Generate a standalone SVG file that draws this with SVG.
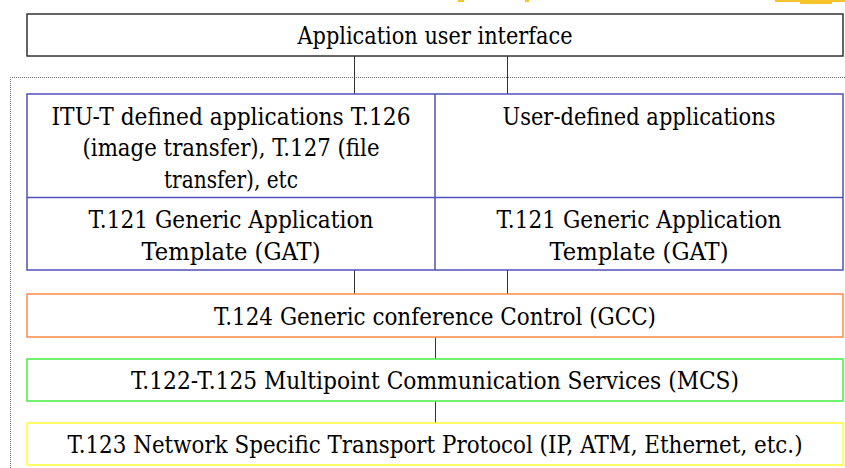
<svg xmlns="http://www.w3.org/2000/svg" width="845" height="468" viewBox="0 0 845 468">
<style>
  .t { font-family: 'DejaVu Serif', serif; font-size: 24.5px; fill: #000; text-anchor: middle; }
  .box { fill: #fff; }
  .conn { stroke: #333; stroke-width: 1; fill: none; }
</style>
<rect width="845" height="468" fill="#fff"/>
<g id="top-fragments" fill="#f6c42a">
  <rect x="458" y="0" width="6" height="2"/>
  <rect x="525" y="0" width="4" height="2"/>
  <rect x="775" y="0" width="70" height="2"/>
  <rect x="800" y="0" width="32" height="4"/>
</g>
<path id="boundary" d="M10.5 468 V77.5 H845" fill="none" stroke="#777" stroke-width="1" stroke-dasharray="1 1"/>
<g id="connectors">
  <path class="conn" d="M354.5 56 V94 M507.5 56 V94"/>
  <path class="conn" d="M354.5 270 V294 M507.5 270 V294"/>
  <path class="conn" d="M435.5 337 V359"/>
  <path class="conn" d="M435.5 401 V423"/>
</g>
<g id="app-ui">
  <rect class="box" x="27" y="14" width="816" height="42" stroke="#333" stroke-width="1.5"/>
  <text class="t" x="435" y="44" textLength="275" lengthAdjust="spacingAndGlyphs">Application user interface</text>
</g>
<g id="apps">
  <rect class="box" x="27" y="94" width="816" height="176" stroke="#5050b8" stroke-width="1.5"/>
  <path d="M435 94 V270 M27 197.5 H843" stroke="#5050b8" stroke-width="1.5" fill="none"/>
</g>
<g id="itu-apps">
  <text class="t" x="231" y="125" textLength="359" lengthAdjust="spacingAndGlyphs">ITU-T defined applications T.126</text>
  <text class="t" x="231" y="156" textLength="297" lengthAdjust="spacingAndGlyphs">(image transfer), T.127 (file</text>
  <text class="t" x="231" y="188" textLength="134" lengthAdjust="spacingAndGlyphs">transfer), etc</text>
</g>
<g id="user-apps">
  <text class="t" x="639" y="125" textLength="273" lengthAdjust="spacingAndGlyphs">User-defined applications</text>
</g>
<g id="gat-left">
  <text class="t" x="231" y="228" textLength="285" lengthAdjust="spacingAndGlyphs">T.121 Generic Application</text>
  <text class="t" x="231" y="260" textLength="179" lengthAdjust="spacingAndGlyphs">Template (GAT)</text>
</g>
<g id="gat-right">
  <text class="t" x="639" y="228" textLength="285" lengthAdjust="spacingAndGlyphs">T.121 Generic Application</text>
  <text class="t" x="639" y="260" textLength="179" lengthAdjust="spacingAndGlyphs">Template (GAT)</text>
</g>
<g id="gcc">
  <rect class="box" x="27" y="294" width="816" height="43" stroke="#ff8a4a" stroke-width="1.5"/>
  <text class="t" x="435" y="325" textLength="442" lengthAdjust="spacingAndGlyphs">T.124 Generic conference Control (GCC)</text>
</g>
<g id="mcs">
  <rect class="box" x="27" y="359" width="816" height="42" stroke="#44ee44" stroke-width="1.5"/>
  <text class="t" x="435" y="389" textLength="608" lengthAdjust="spacingAndGlyphs">T.122-T.125 Multipoint Communication Services (MCS)</text>
</g>
<g id="transport">
  <rect class="box" x="27" y="423" width="816" height="42" stroke="#ffff33" stroke-width="1.5"/>
  <text class="t" x="435" y="453" textLength="735" lengthAdjust="spacingAndGlyphs">T.123 Network Specific Transport Protocol (IP, ATM, Ethernet, etc.)</text>
</g>
</svg>
